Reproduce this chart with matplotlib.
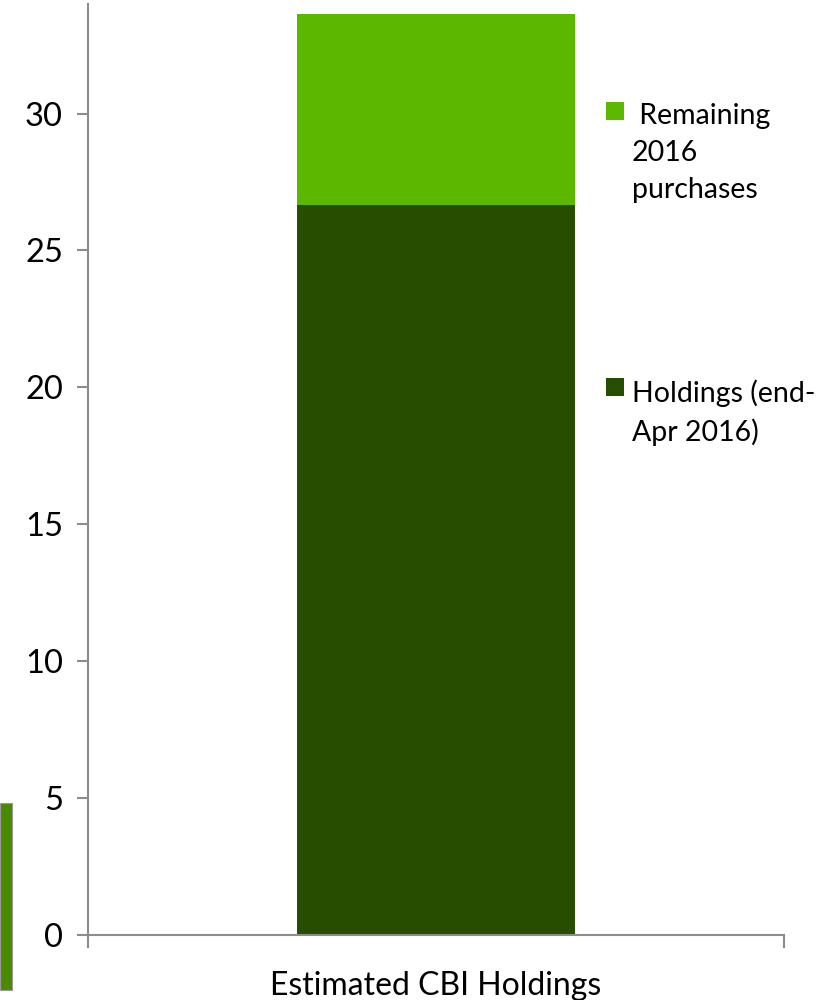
import matplotlib
matplotlib.use("Agg")
from matplotlib import pyplot as plt
from matplotlib.patches import Rectangle

categories = ["Estimated CBI Holdings"]
holdings = [26.65]
remaining = [7.0]
series_names = [" Remaining\n2016\npurchases", "Holdings (end-\nApr 2016)"]
yticks = [0, 5, 10, 15, 20, 25, 30]

light_green = "#5BB700"
dark_green = "#264D00"
grey = "#8C8C8C"

plt.rcParams["font.family"] = ["Lato", "DejaVu Sans"]

fig = plt.figure(figsize=(8.32, 10), dpi=100)
ax = fig.add_axes([88 / 832, 65 / 1000, 696 / 832, 931 / 1000])

x = list(range(len(categories)))
ax.bar(x, holdings, width=0.4, color=dark_green)
ax.bar(x, remaining, width=0.4, bottom=holdings, color=light_green)

ax.set_xlim(-0.5, 0.5)
ax.set_ylim(0, 34)
ax.set_yticks(yticks)
ax.set_yticklabels([str(t) for t in yticks], fontsize=23.5)
ax.tick_params(axis="y", length=8, width=1.5, color=grey, pad=10)
ax.set_xticks(x)
ax.set_xticklabels(categories, fontsize=23)
ax.tick_params(axis="x", which="major", length=0, pad=26)
ax.set_xticks([-0.5, 0.5], minor=True)
ax.tick_params(axis="x", which="minor", length=9, width=1.5, color=grey)

for side in ["top", "right"]:
    ax.spines[side].set_visible(False)
for side in ["left", "bottom"]:
    ax.spines[side].set_color(grey)
    ax.spines[side].set_linewidth(1.5)

# legend, drawn by hand so the key sits beside the first line
legend_items = [(series_names[0], light_green, 102), (series_names[1], dark_green, 378)]
for label, color, top in legend_items:
    fig.patches.append(Rectangle((606 / 832, 1 - (top + 18) / 1000), 18 / 832, 18 / 1000,
                                 transform=fig.transFigure, facecolor=color,
                                 edgecolor="none"))
    fig.text(632 / 832, 1 - (top + 1) / 1000, label, fontsize=20.5, va="top",
             ha="left", linespacing=1.53, color="black")

# clipped fragment on the left edge of the original image
fig.patches.append(Rectangle((0, 10 / 1000), 12 / 832, 187 / 1000,
                             transform=fig.transFigure, facecolor="#4A8A00",
                             edgecolor="#9A9A9A", linewidth=0.8))

fig.savefig("out.png", dpi=100)
